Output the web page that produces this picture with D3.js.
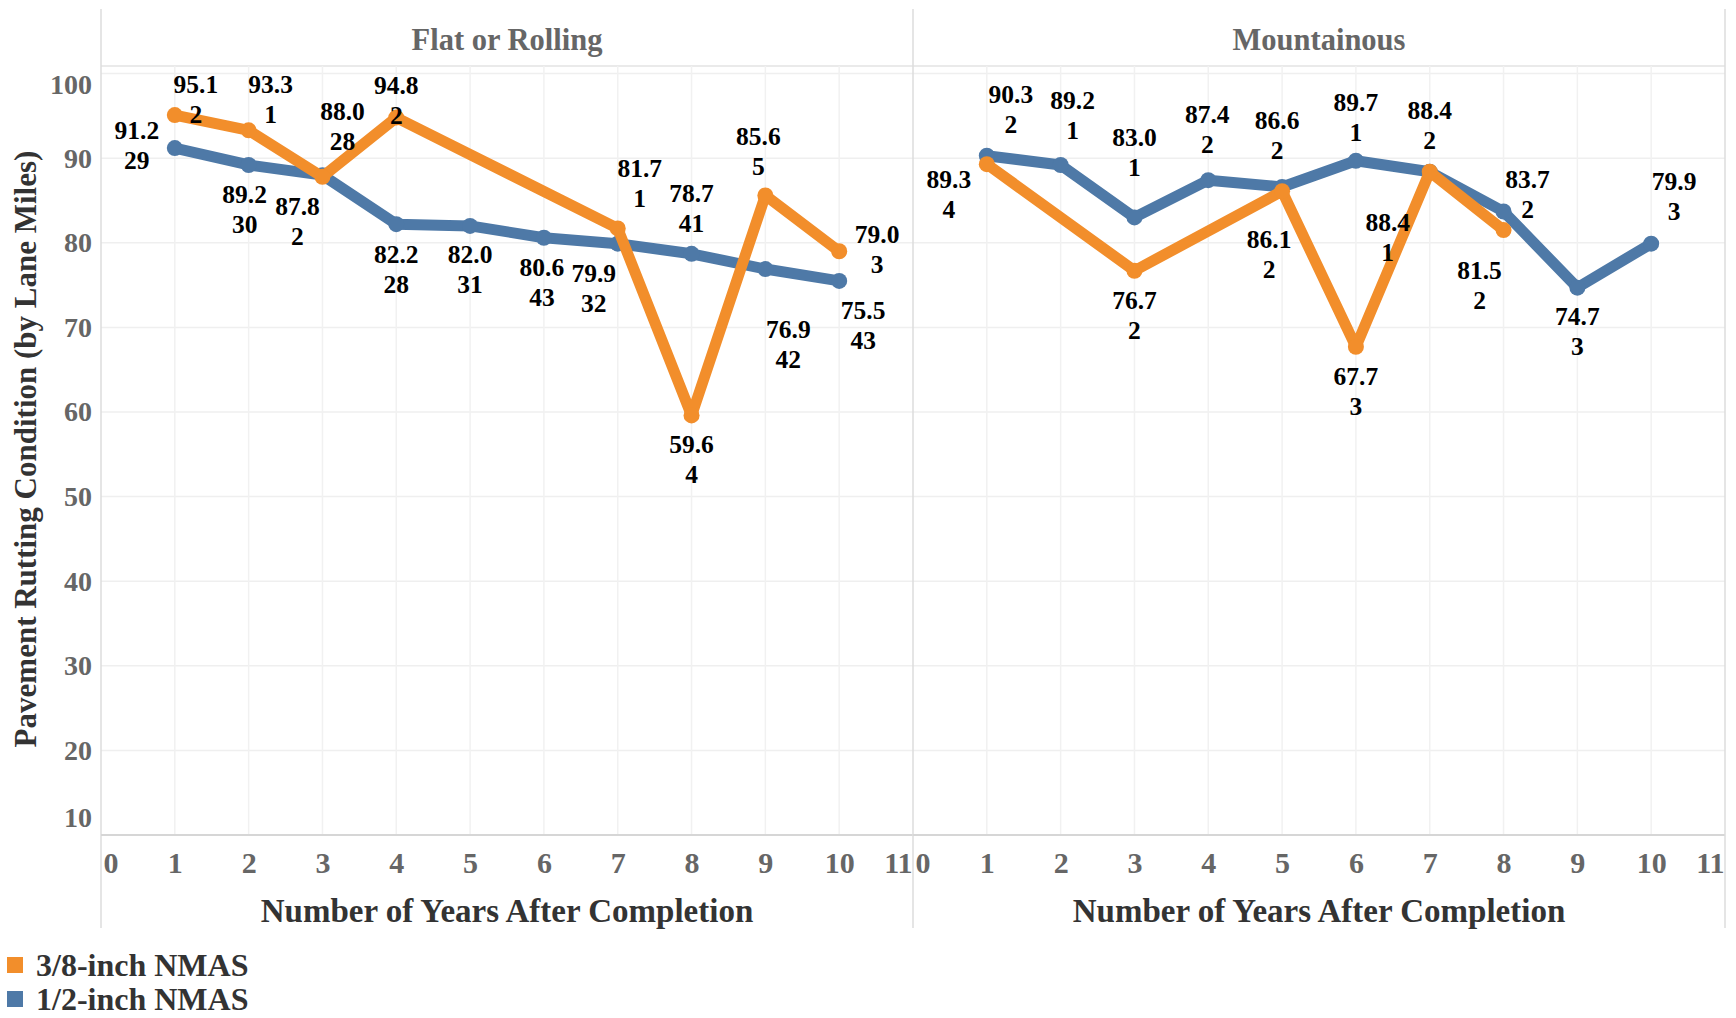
<!DOCTYPE html>
<html>
<head>
<meta charset="utf-8">
<script src="https://cdn.jsdelivr.net/npm/d3@7"></script>
<style>
  body { margin: 0; background: #fff; }
  text { font-family: "Liberation Serif", "Times New Roman", serif; font-weight: bold; }
</style>
</head>
<body>
<div id="chart-area"></div>
<script>
// values
var years = [1, 2, 3, 4, 5, 6, 7, 8, 9, 10];
var xTicks = [0, 1, 2, 3, 4, 5, 6, 7, 8, 9, 10, 11];
var yTicks = [10, 20, 30, 40, 50, 60, 70, 80, 90, 100];
var seriesNames = ["3/8-inch NMAS", "1/2-inch NMAS"];
var panelNames = ["Flat or Rolling", "Mountainous"];

var flatHalf = [91.2, 89.2, 88.0, 82.2, 82.0, 80.6, 79.9, 78.7, 76.9, 75.5];
var flatHalfN = [29, 30, 28, 28, 31, 43, 32, 41, 42, 43];
var flatEighthYears = [1, 2, 3, 4, 7, 8, 9, 10];
var flatEighth = [95.1, 93.3, 87.8, 94.8, 81.7, 59.6, 85.6, 79.0];
var flatEighthN = [2, 1, 2, 2, 1, 4, 5, 3];

var mtnHalf = [90.3, 89.2, 83.0, 87.4, 86.6, 89.7, 88.4, 83.7, 74.7, 79.9];
var mtnHalfN = [2, 1, 1, 2, 2, 1, 2, 2, 3, 3];
var mtnEighthYears = [1, 3, 5, 6, 7, 8];
var mtnEighth = [89.3, 76.7, 86.1, 67.7, 88.4, 81.5];
var mtnEighthN = [4, 2, 2, 3, 1, 2];

// label placement (pixel nudges, like Tableau's collision avoidance)
var flatHalfLbl = [[-38,-18],[-4,29],[20,-64],[0,30],[0,28],[-2,29],[-24,29],[0,-61],[23,60],[24,29]];
var flatEighthLbl = [[21,-31],[22,-46],[-25,29],[0,-33],[22,-60],[0,29],[-7,-59],[38,-17]];
var mtnHalfLbl = [[24,-62],[12,-65],[0,-80],[-1,-66],[-5,-67],[0,-59],[0,-62],[24,-32],[0,28],[23,-63]];
var mtnEighthLbl = [[-38,15],[0,29],[-13,48],[0,29],[-42,50],[-24,40]];

var colors = ["#f28e2b", "#4e79a7"];

function rows(xs, vs, ns, offs) {
    return xs.map(function(x, i) { return {x: x, v: vs[i], n: ns[i], off: offs[i]}; });
}

var panels = [
    {title: panelNames[0], series: [
        {color: colors[1], data: rows(years, flatHalf, flatHalfN, flatHalfLbl)},
        {color: colors[0], data: rows(flatEighthYears, flatEighth, flatEighthN, flatEighthLbl)}
    ]},
    {title: panelNames[1], series: [
        {color: colors[1], data: rows(years, mtnHalf, mtnHalfN, mtnHalfLbl)},
        {color: colors[0], data: rows(mtnEighthYears, mtnEighth, mtnEighthN, mtnEighthLbl)}
    ]}
];

var W = 1736, H = 1018;
var plotLeft = 101, panelW = 812, plotTop = 66, plotBottom = 835;

var svg = d3.select("#chart-area").append("svg")
    .attr("width", W)
    .attr("height", H);

var y = d3.scaleLinear().domain([10, 100.9]).range([plotBottom, plotTop]);
var x = d3.scaleLinear().domain([0, 11]).range([0, panelW]);

// header separator
svg.append("line")
    .attr("x1", plotLeft).attr("x2", plotLeft + 2 * panelW)
    .attr("y1", plotTop).attr("y2", plotTop)
    .attr("stroke", "#e3e3e3").attr("stroke-width", 1.5);

panels.forEach(function(p, pi) {
    var g = svg.append("g")
        .attr("transform", "translate(" + (plotLeft + pi * panelW) + ",0)");

    // grid
    g.selectAll(".hgrid").data(yTicks.slice(1)).enter().append("line")
        .attr("x1", 0).attr("x2", panelW)
        .attr("y1", function(d) { return y(d); })
        .attr("y2", function(d) { return y(d); })
        .attr("stroke", "#efefef").attr("stroke-width", 1.5);
    g.selectAll(".vgrid").data(xTicks.slice(1, -1)).enter().append("line")
        .attr("x1", function(d) { return x(d); })
        .attr("x2", function(d) { return x(d); })
        .attr("y1", plotTop).attr("y2", plotBottom)
        .attr("stroke", "#f1f1f1").attr("stroke-width", 1.5);

    // panel border + baseline
    g.append("line")
        .attr("x1", 0).attr("x2", 0).attr("y1", 9).attr("y2", 928)
        .attr("stroke", "#dcdcdc").attr("stroke-width", 1.5);
    g.append("line")
        .attr("x1", 0).attr("x2", panelW).attr("y1", plotBottom).attr("y2", plotBottom)
        .attr("stroke", "#d6d6d6").attr("stroke-width", 2);

    g.append("text")
        .attr("x", panelW / 2).attr("y", 39)
        .attr("dy", "0.35em")
        .attr("text-anchor", "middle")
        .attr("fill", "#666")
        .style("font-size", "30.5px")
        .text(p.title);

    // x axis
    var xa = g.append("g")
        .attr("transform", "translate(0," + plotBottom + ")")
        .call(d3.axisBottom(x).tickValues(xTicks).tickSize(0).tickPadding(17));
    xa.select(".domain").remove();
    xa.selectAll("text")
        .attr("fill", "#666")
        .style("font-size", "30px")
        .style("font-family", null)
        .attr("text-anchor", function(d) { return d === 0 ? "start" : (d === 11 ? "end" : "middle"); })
        .attr("x", function(d) { return d === 0 ? 2 : (d === 11 ? -1 : 0); });

    g.append("text")
        .attr("x", panelW / 2).attr("y", 910)
        .attr("dy", "0.35em")
        .attr("text-anchor", "middle")
        .attr("fill", "#333")
        .style("font-size", "33px")
        .text("Number of Years After Completion");

    var line = d3.line()
        .x(function(d) { return x(d.x); })
        .y(function(d) { return y(d.v); });

    p.series.forEach(function(s) {
        g.append("path")
            .attr("fill", "none")
            .attr("stroke", s.color)
            .attr("stroke-width", 11)
            .attr("stroke-linejoin", "round")
            .attr("d", line(s.data));
        g.selectAll(null).data(s.data).enter().append("circle")
            .attr("cx", function(d) { return x(d.x); })
            .attr("cy", function(d) { return y(d.v); })
            .attr("r", 8)
            .attr("fill", s.color);
    });

    p.series.forEach(function(s) {
        var lbl = g.selectAll(null).data(s.data).enter().append("text")
            .attr("text-anchor", "middle")
            .attr("fill", "#000")
            .style("font-size", "25.5px")
            .attr("transform", function(d) {
                return "translate(" + (x(d.x) + d.off[0]) + "," + (y(d.v) + d.off[1]) + ")";
            });
        lbl.append("tspan").attr("x", 0).attr("dy", "0.35em")
            .text(function(d) { return d.v.toFixed(1); });
        lbl.append("tspan").attr("x", 0).attr("dy", 30)
            .text(function(d) { return d.n; });
    });
});

// right border
svg.append("line")
    .attr("x1", plotLeft + 2 * panelW).attr("x2", plotLeft + 2 * panelW)
    .attr("y1", 9).attr("y2", 928)
    .attr("stroke", "#dcdcdc").attr("stroke-width", 1.5);

// y axis
var ya = svg.append("g")
    .attr("transform", "translate(" + plotLeft + ",0)")
    .call(d3.axisLeft(y).tickValues(yTicks).tickSize(0).tickPadding(9));
ya.select(".domain").remove();
ya.selectAll("text")
    .attr("fill", "#666")
    .style("font-size", "28px")
    .style("font-family", null)
    .attr("y", function(d) { return d === 100 ? 11 : (d === 10 ? -17 : 0); });

svg.append("text")
    .attr("transform", "translate(25,449) rotate(-90)")
    .attr("dy", "0.35em")
    .attr("text-anchor", "middle")
    .attr("fill", "#333")
    .style("font-size", "31px")
    .text("Pavement Rutting Condition (by Lane Miles)");

// legend
var leg = svg.selectAll(".legend").data(seriesNames).enter().append("g")
    .attr("transform", function(d, i) { return "translate(0," + (965 + i * 34) + ")"; });
leg.append("rect")
    .attr("x", 7).attr("y", -8)
    .attr("width", 16).attr("height", 16)
    .attr("fill", function(d, i) { return colors[i]; });
leg.append("text")
    .attr("x", 36)
    .attr("dy", "0.35em")
    .attr("fill", "#333")
    .style("font-size", "32px")
    .text(function(d) { return d; });
</script>
</body>
</html>
